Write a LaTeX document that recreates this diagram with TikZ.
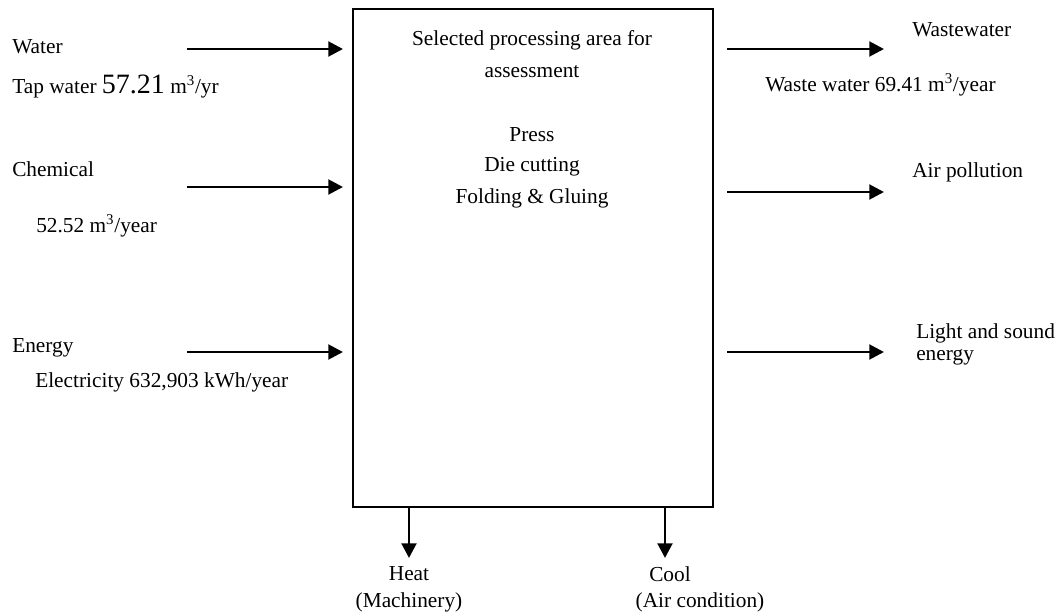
\documentclass[tikz,border=0pt]{standalone}
\usepackage{fontspec}
\setmainfont{Liberation Serif}
\usetikzlibrary{arrows.meta}
\begin{document}
\begin{tikzpicture}[x=0.75pt,y=-0.75pt,
  lbl/.style={inner sep=0pt,font=\fontsize{16}{18}\selectfont},
  flow/.style={line width=2.2pt,-{Triangle[length=11pt,width=11pt]}}]
\useasboundingbox (0,0) rectangle (1058,615);
\node[draw,line width=1.5pt,minimum width=360*0.75pt,minimum height=498*0.75pt,inner sep=0pt,anchor=north west] (box) at (352,8) {};
% box texts
\node[lbl] (t1) at (532,40) {Selected processing area for};
\node[lbl] (t2) at (532,72) {assessment};
\node[lbl] (t3) at (532,135) {Press};
\node[lbl] (t4) at (532,167) {Die cutting};
\node[lbl] (t5) at (532,198) {Folding \& Gluing};
% left labels
\node[lbl,anchor=west] (water) at (12,47) {Water};
\node[lbl,anchor=west] (tap) at (12,87) {Tap water {\fontsize{21}{22}\selectfont 57.21} m\textsuperscript{3}/yr};
\node[lbl,anchor=west] (chem) at (12,169) {Chemical};
\node[lbl,anchor=west] (chemv) at (36,226) {52.52 m\textsuperscript{3}/year};
\node[lbl,anchor=west] (energy) at (12,348) {Energy};
\node[lbl,anchor=west] (elec) at (35,382) {Electricity 632,903 kWh/year};
% right labels
\node[lbl,anchor=west] (ww) at (912,30) {Wastewater};
\node[lbl,anchor=west] (wwv) at (765,85) {Waste water 69.41 m\textsuperscript{3}/year};
\node[lbl,anchor=west] (air) at (912,172) {Air pollution};
\node[lbl,anchor=west] (light) at (916,333) {Light and sound};
\node[lbl,anchor=west] (light2) at (916,357) {energy};
% bottom labels
\node[lbl] (heat) at (409,574) {Heat};
\node[lbl] (mach) at (409,602) {(Machinery)};
\node[lbl] (cool) at (670,574) {Cool};
\node[lbl] (aircon) at (700,602) {(Air condition)};
% coordinates
\coordinate (l1s) at (187,49); \coordinate (l1e) at (343,49);
\coordinate (l2s) at (187,187); \coordinate (l2e) at (343,187);
\coordinate (l3s) at (187,352); \coordinate (l3e) at (343,352);
\coordinate (r1s) at (727,49); \coordinate (r1e) at (884,49);
\coordinate (r2s) at (727,192); \coordinate (r2e) at (884,192);
\coordinate (r3s) at (727,352); \coordinate (r3e) at (884,352);
\coordinate (d1s) at (409,506); \coordinate (d1e) at (409,558);
\coordinate (d2s) at (665,506); \coordinate (d2e) at (665,558);
\draw[flow] (l1s) -- (l1e);
\draw[flow] (l2s) -- (l2e);
\draw[flow] (l3s) -- (l3e);
\draw[flow] (r1s) -- (r1e);
\draw[flow] (r2s) -- (r2e);
\draw[flow] (r3s) -- (r3e);
\draw[flow] (d1s) -- (d1e);
\draw[flow] (d2s) -- (d2e);
\end{tikzpicture}
\end{document}
